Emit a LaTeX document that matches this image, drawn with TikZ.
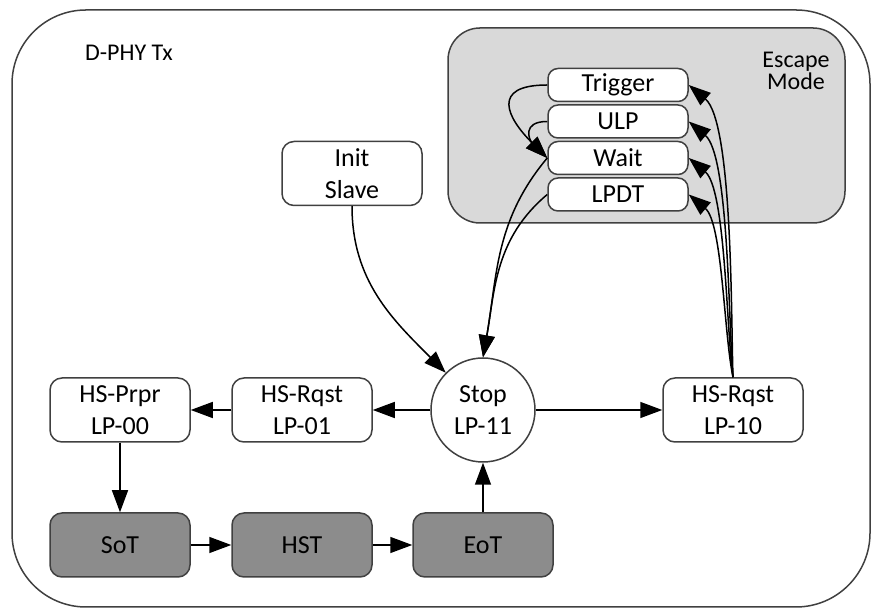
\documentclass[tikz,border=0pt]{standalone}
\usepackage{fontspec}
\setmainfont{Carlito}
\usetikzlibrary{arrows.meta,positioning}

\definecolor{bordergray}{HTML}{404040}
\definecolor{escgray}{HTML}{D9D9D9}
\definecolor{hsgray}{HTML}{8C8C8C}

\tikzset{
  lpstate/.style={draw=bordergray, line width=0.75pt, fill=white, rounded corners=6pt,
    minimum width=70pt, minimum height=32pt, align=center, inner sep=1pt,
    font=\fontsize{13}{15.8}\selectfont},
  hsstate/.style={lpstate, fill=hsgray},
  escstate/.style={lpstate, rounded corners=5pt, minimum height=16.5pt},
  stopstate/.style={draw=bordergray, line width=0.75pt, fill=white, circle, minimum size=52pt,
    align=center, inner sep=1pt, font=\fontsize{13}{15.8}\selectfont},
  edge/.style={line width=0.75pt, -{Triangle[length=11pt,width=8pt]}},
}

\begin{document}
\begin{tikzpicture}[x=0.5pt,y=0.5pt]
        \useasboundingbox (0,0) rectangle (872,609);
        % frames
        \draw[bordergray, line width=0.75pt, rounded corners=37pt] (12,2) rectangle (870,599);
        \draw[bordergray, line width=0.75pt, fill=escgray, rounded corners=16pt] (448,386) rectangle (845,581);
        \node[anchor=west, font=\fontsize{12}{14}\selectfont] (txlabel) at (78,556) {D-PHY Tx};
        \node[align=center, font=\fontsize{12}{11}\selectfont] (esclabel) at (796,538) {Escape\\Mode};

        % escape mode states
        \node[escstate] (trigger) at (618,524) {Trigger};
        \node[escstate, below=1pt of trigger] (ulp) {ULP};
        \node[escstate, below=1pt of ulp] (wait) {Wait};
        \node[escstate, below=1pt of wait] (lpdt) {LPDT};

        % lp states
        \node[lpstate] (init) at (352,435.5) {Init\\Slave};
        \node[lpstate] (hsprpr) at (120,199) {HS-Prpr\\LP-00};
        \node[lpstate] (rqst01) at (302,199) {HS-Rqst\\LP-01};
        \node[stopstate] (stop) at (483,199) {Stop\\LP-11};
        \node[lpstate] (rqst10) at (733,199) {HS-Rqst\\LP-10};

        % hs states
        \node[hsstate] (sot) at (120,64) {SoT};
        \node[hsstate] (hst) at (302,64) {HST};
        \node[hsstate] (eot) at (483,64) {EoT};

        % transitions
        \draw[edge] (init.south) to[out=-90,in=135] (stop);
        \draw[edge] (stop) -- (rqst01);
        \draw[edge] (rqst01) -- (hsprpr);
        \draw[edge] (hsprpr) -- (sot);
        \draw[edge] (sot) -- (hst);
        \draw[edge] (hst) -- (eot);
        \draw[edge] (eot) -- (stop);
        \draw[edge] (stop) -- (rqst10);
        \foreach \n/\o/\l in {trigger/92/0.5,ulp/95/0.52,wait/98/0.55,lpdt/102/0.6}
          \draw[edge] (rqst10.north) to[out=\o,in=-40,looseness=\l] (\n.east);
        \draw[edge] (trigger.west) to[out=180,in=135,looseness=2] (wait.west);
        \draw[edge] (ulp.west) to[out=180,in=135,looseness=1.8] (wait.west);
        \draw[edge] (wait.west) to[out=-130,in=80] (stop.north);
        \draw[edge] (lpdt.west) to[out=-140,in=80] (stop.north);
      \end{tikzpicture}
\end{document}
